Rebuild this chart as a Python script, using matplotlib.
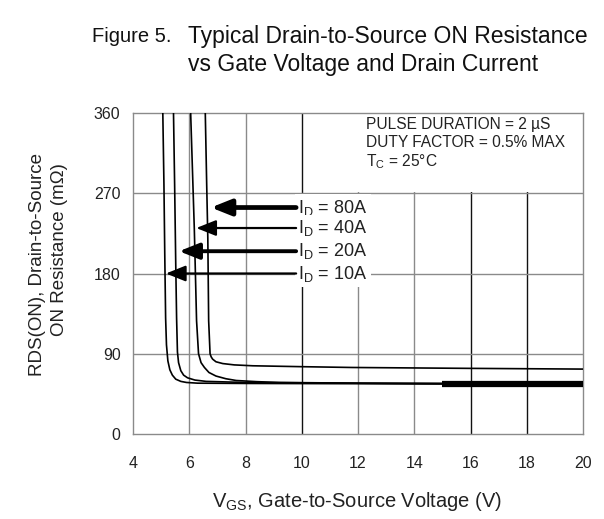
import matplotlib
matplotlib.use("Agg")
import matplotlib.pyplot as plt

plt.rcParams['font.family'] = ['Liberation Sans', 'DejaVu Sans']

# curvas RDS(on) vs VGS (V, mOhm)
v_10a = [5.06, 5.10, 5.13, 5.16, 5.19, 5.24, 5.31, 5.40, 5.52, 5.70, 5.90, 6.3, 8, 12, 16, 20]
r_10a = [360, 280, 200, 130, 100, 82, 72, 66, 61.5, 59, 57.8, 57, 56.7, 56.4, 56, 55.8]

v_20a = [5.44, 5.48, 5.52, 5.55, 5.58, 5.62, 5.70, 5.80, 5.94, 6.2, 6.6, 8.0, 12, 16, 20]
r_20a = [360, 280, 190, 130, 92, 80, 71, 66, 63, 60.5, 59, 57.8, 57, 56.5, 56]

v_40a = [6.05, 6.12, 6.18, 6.26, 6.33, 6.42, 6.54, 6.70, 6.95, 7.3, 7.67, 8.4, 9.2, 12, 16, 20]
r_40a = [360, 290, 230, 127, 90, 80, 74.6, 69, 65, 62, 60, 58.7, 57.8, 57, 56.5, 56]

v_80a = [6.57, 6.62, 6.66, 6.69, 6.74, 6.78, 6.83, 6.95, 7.19, 7.6, 8.26, 10, 11.8, 16, 20]
r_80a = [360, 280, 220, 127, 90, 86.5, 84, 81, 79, 77.5, 76.5, 75.5, 74.6, 73.6, 72.8]

# tramo grueso al final (curvas superpuestas)
v_thick = [15, 20]
r_thick = [55.6, 55.6]

# flechas de las etiquetas: punta (V), altura (mOhm), cola (V)
arrow_labels = ["I$_\\mathregular{D}$ = 80A", "I$_\\mathregular{D}$ = 40A",
                "I$_\\mathregular{D}$ = 20A", "I$_\\mathregular{D}$ = 10A"]
arrow_head_v = [6.77, 6.25, 5.64, 5.17]
arrow_r = [254, 231, 205, 180]
arrow_tail_v = [9.8, 9.8, 9.8, 9.8]
arrow_lw = [3.4, 1.6, 2.8, 1.6]

x_ticks = [4, 6, 8, 10, 12, 14, 16, 18, 20]
y_ticks = [0, 90, 180, 270, 360]

fig = plt.figure(figsize=(6.04, 5.19), dpi=100)
ax = fig.add_axes([133 / 604, 1 - 434 / 519, 450 / 604, 321 / 519])

ax.set_xlim(4, 20)
ax.set_ylim(0, 360)
ax.set_xticks(x_ticks)
ax.set_yticks(y_ticks)

# rejilla: algunas lineas verticales mas oscuras como en la hoja de datos
for x in x_ticks[1:-1]:
    c = '#111111' if x in (10, 16, 18) else '#8a8a8a'
    ax.axvline(x, color=c, lw=1.0, zorder=1)
for y in y_ticks[1:-1]:
    ax.axhline(y, color='#8a8a8a', lw=1.0, zorder=1)

# recuadro blanco de las condiciones de prueba
ax.axvspan(11.8, 20, ymin=0.755, ymax=1, color='white', zorder=1.2, lw=0)

for v, r in [(v_10a, r_10a), (v_20a, r_20a), (v_40a, r_40a), (v_80a, r_80a)]:
    ax.plot(v, r, color='black', lw=1.2, zorder=3)
ax.plot(v_thick, r_thick, color='black', lw=4.5, solid_capstyle='butt', zorder=3)

for lab, hv, r, tv, lw in zip(arrow_labels, arrow_head_v, arrow_r, arrow_tail_v, arrow_lw):
    ax.annotate('', xy=(hv, r), xytext=(tv, r),
                arrowprops=dict(arrowstyle='-|>,head_length=0.6,head_width=0.24',
                                lw=lw, color='black', mutation_scale=20,
                                shrinkA=0, shrinkB=0), zorder=4)
    ax.text(tv + 0.08, r, lab, fontsize=13, color='#222222', va='center', ha='left',
            bbox=dict(facecolor='white', edgecolor='none', pad=2.5), zorder=2)

ax.text(12.3, 355, "PULSE DURATION = 2 µS\nDUTY FACTOR = 0.5% MAX\nT$_\\mathregular{C}$ = 25°C",
        fontsize=11.2, color='#222222', va='top', ha='left', linespacing=1.2, zorder=2)

for s in ax.spines.values():
    s.set_color('#8a8a8a')
    s.set_linewidth(1.0)

ax.tick_params(axis='both', length=0, labelsize=11.5, labelcolor='#222222')
ax.tick_params(axis='x', pad=16)
ax.tick_params(axis='y', pad=9)

fig.text(357 / 604, 1 - 490 / 519, "V$_\\mathregular{GS}$, Gate-to-Source Voltage (V)",
         fontsize=14.5, color='#222222', ha='center', va='top')
fig.text(38 / 604, 1 - 265 / 519, "RDS(ON), Drain-to-Source", rotation=90,
         fontsize=13.5, color='#222222', ha='center', va='center')
fig.text(60 / 604, 1 - 250 / 519, "ON Resistance (mΩ)", rotation=90,
         fontsize=13.5, color='#222222', ha='center', va='center')

fig.text(92 / 604, 1 - 36 / 519, "Figure 5.", fontsize=14.5, color='#111111',
         ha='left', va='center')
fig.text(188 / 604, 1 - 36 / 519, "Typical Drain-to-Source ON Resistance",
         fontsize=16.5, color='#111111', ha='left', va='center')
fig.text(188 / 604, 1 - 65 / 519, "vs Gate Voltage and Drain Current",
         fontsize=16.5, color='#111111', ha='left', va='center')

fig.savefig("out.png", dpi=100)
